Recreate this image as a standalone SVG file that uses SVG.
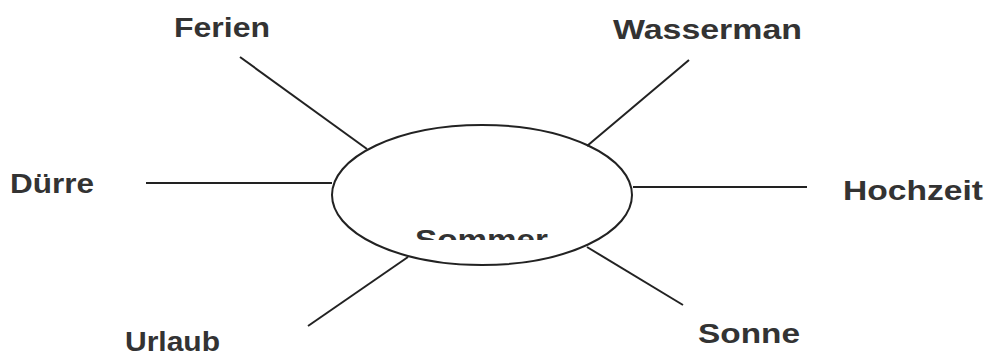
<svg xmlns="http://www.w3.org/2000/svg" width="989" height="357" viewBox="0 0 989 357">
  <style>
    .lbl { font-family: "Liberation Sans", Arial, sans-serif; font-weight: bold; font-size: 27px; fill: #333; }
    .ln { stroke: #222; stroke-width: 2; fill: none; }
  </style>
  <defs>
    <clipPath id="cut">
      <rect x="380" y="200" width="220" height="40"/>
    </clipPath>
  </defs>
  <rect width="989" height="357" fill="#fff"/>
  <g id="connectors">
    <line class="ln" x1="240" y1="57" x2="367" y2="149"/>
    <line class="ln" x1="689" y1="60" x2="587" y2="146"/>
    <line class="ln" x1="146" y1="183" x2="332" y2="183"/>
    <line class="ln" x1="633" y1="187" x2="807" y2="187"/>
    <line class="ln" x1="408" y1="257" x2="308" y2="326"/>
    <line class="ln" x1="587" y1="247" x2="683" y2="305"/>
  </g>
  <g id="center">
    <ellipse class="ln" cx="482" cy="195" rx="150" ry="70"/>
    <text class="lbl" x="415" y="249" textLength="133" lengthAdjust="spacingAndGlyphs" clip-path="url(#cut)">Sommer</text>
  </g>
  <g id="ferien"><text class="lbl" x="174" y="37" textLength="96" lengthAdjust="spacingAndGlyphs">Ferien</text></g>
  <g id="wasserman"><text class="lbl" x="613" y="39" textLength="189" lengthAdjust="spacingAndGlyphs">Wasserman</text></g>
  <g id="duerre"><text class="lbl" x="10" y="193" textLength="84" lengthAdjust="spacingAndGlyphs">Dürre</text></g>
  <g id="hochzeit"><text class="lbl" x="843" y="200" textLength="140" lengthAdjust="spacingAndGlyphs">Hochzeit</text></g>
  <g id="urlaub"><text class="lbl" x="125" y="351" textLength="95" lengthAdjust="spacingAndGlyphs">Urlaub</text></g>
  <g id="sonne"><text class="lbl" x="698" y="343" textLength="102" lengthAdjust="spacingAndGlyphs">Sonne</text></g>
</svg>
